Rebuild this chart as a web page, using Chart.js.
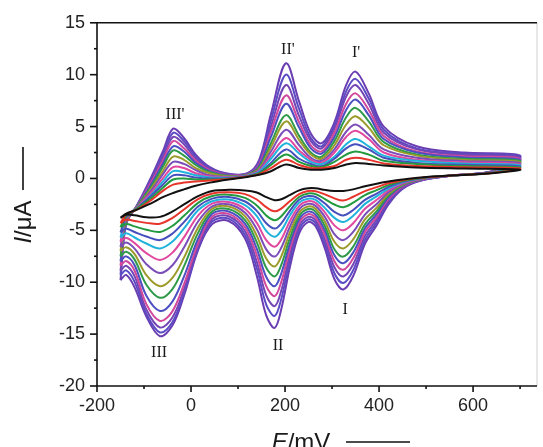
<!DOCTYPE html>
<html>
<head>
<meta charset="utf-8">
<script src="https://cdn.jsdelivr.net/npm/chart.js@4.4.1/dist/chart.umd.min.js"></script>
<style>
  html, body { margin: 0; padding: 0; background: #fff; }
  canvas { display: block; }
</style>
</head>
<body>
<canvas id="cv" width="543" height="447"></canvas>
<script>
/* ===== DATA ===== */
// potential grid (mV) of the anodic (forward) and cathodic (reverse) sweeps
const eForward = [-150, -138, -115, -85, -60, -38, -15, 10, 40, 80, 120, 145, 170, 202, 230, 255, 278, 305, 330, 350, 378, 410, 480, 580, 700];
const eReverse = [700, 640, 560, 490, 450, 420, 395, 370, 345, 324, 305, 285, 265, 249, 230, 210, 192, 178, 160, 140, 115, 80, 45, 15, -15, -40, -66, -95, -120, -138, -150];

// current (µA), innermost scan first
const fwd00 = [-3.8, -3.4, -3.0, -2.4, -1.8, -1.4, -1.05, -0.7, -0.4, -0.1, 0.15, 0.35, 0.7, 1.35, 1.0, 0.85, 0.85, 1.0, 1.35, 1.5, 1.4, 1.25, 1.05, 0.95, 0.85];
const rev00 = [0.85, 0.5, 0.3, 0.1, -0.1, -0.3, -0.5, -0.75, -1.05, -1.2, -1.2, -1.1, -0.95, -0.95, -1.15, -1.6, -2.0, -2.1, -1.8, -1.35, -1.15, -1.1, -1.2, -1.7, -2.5, -3.2, -3.7, -3.75, -3.55, -3.5, -3.8];
const fwd01 = [-4.3, -3.5, -3.0, -2.1, -1.2, -0.6, -0.4, -0.3, -0.2, -0.06, 0.18, 0.42, 1.0, 1.8, 1.3, 1.0, 1.0, 1.2, 1.8, 2.0, 1.8, 1.45, 1.2, 1.07, 0.95];
const rev01 = [0.95, 0.52, 0.3, 0.08, -0.17, -0.47, -0.84, -1.22, -1.76, -2.13, -1.92, -1.54, -1.23, -1.2, -1.5, -2.2, -2.9, -3.17, -2.77, -2.03, -1.51, -1.33, -1.45, -1.99, -2.99, -3.82, -4.36, -4.28, -4.09, -3.95, -4.3];
const fwd02 = [-4.7, -3.6, -2.9, -1.9, -0.9, -0.1, 0.0, -0.1, -0.1, -0.02, 0.2, 0.5, 1.3, 2.3, 1.6, 1.2, 1.1, 1.6, 2.3, 2.6, 2.3, 1.7, 1.4, 1.19, 1.06];
const rev02 = [1.06, 0.53, 0.3, 0.05, -0.24, -0.64, -1.12, -1.6, -2.34, -2.77, -2.51, -1.98, -1.51, -1.45, -1.79, -2.69, -3.64, -4.03, -3.57, -2.6, -1.87, -1.56, -1.69, -2.35, -3.6, -4.58, -5.15, -4.94, -4.62, -4.39, -4.7];
const fwd03 = [-5.2, -3.7, -2.9, -1.7, -0.6, 0.3, 0.3, 0.1, 0.0, 0.03, 0.23, 0.56, 1.5, 2.8, 1.9, 1.4, 1.2, 1.9, 2.9, 3.3, 2.8, 2.0, 1.5, 1.31, 1.16];
const rev03 = [1.16, 0.55, 0.3, 0.03, -0.31, -0.81, -1.45, -2.07, -3.04, -3.56, -3.22, -2.42, -1.79, -1.7, -2.06, -3.14, -4.33, -4.83, -4.31, -3.12, -2.22, -1.79, -1.94, -2.71, -4.21, -5.33, -5.94, -5.6, -5.16, -4.84, -5.2];
const fwd04 = [-5.7, -3.7, -2.9, -1.6, -0.3, 0.7, 0.6, 0.3, 0.1, 0.07, 0.26, 0.66, 1.9, 3.4, 2.4, 1.6, 1.4, 2.1, 3.3, 3.8, 3.1, 2.2, 1.7, 1.43, 1.27];
const rev04 = [1.27, 0.56, 0.3, 0.01, -0.38, -0.98, -1.72, -2.45, -3.6, -4.2, -3.8, -2.86, -2.07, -1.95, -2.33, -3.6, -5.02, -5.62, -5.05, -3.64, -2.58, -2.02, -2.19, -3.07, -4.82, -6.1, -6.74, -6.27, -5.69, -5.29, -5.7];
const fwd05 = [-6.1, -3.8, -2.8, -1.4, 0.0, 1.1, 1.0, 0.5, 0.2, 0.11, 0.28, 0.73, 2.2, 3.9, 2.7, 1.8, 1.5, 2.5, 4.0, 4.6, 3.8, 2.5, 1.8, 1.55, 1.37];
const rev05 = [1.37, 0.58, 0.3, -0.02, -0.45, -1.15, -2.06, -2.92, -4.31, -5.0, -4.52, -3.29, -2.36, -2.2, -2.66, -4.15, -5.86, -6.58, -5.95, -4.28, -2.94, -2.26, -2.43, -3.58, -5.68, -7.17, -7.85, -7.2, -6.23, -5.73, -6.1];
const fwd06 = [-6.6, -3.9, -2.8, -1.2, 0.4, 1.6, 1.4, 0.8, 0.3, 0.15, 0.31, 0.85, 2.6, 4.7, 3.2, 2.0, 1.7, 2.8, 4.5, 5.2, 4.2, 2.8, 2.0, 1.67, 1.47];
const rev06 = [1.47, 0.59, 0.3, -0.04, -0.52, -1.32, -2.46, -3.48, -5.15, -5.94, -5.37, -3.73, -2.64, -2.45, -2.98, -4.69, -6.67, -7.53, -6.83, -4.9, -3.3, -2.49, -2.68, -4.15, -6.65, -8.39, -9.12, -8.26, -6.76, -6.18, -6.6];
const fwd07 = [-7.0, -4.0, -2.8, -1.0, 0.7, 2.1, 1.8, 1.0, 0.5, 0.2, 0.34, 0.97, 3.0, 5.5, 3.7, 2.3, 1.9, 3.2, 5.2, 6.0, 4.9, 3.2, 2.2, 1.78, 1.58];
const rev07 = [1.58, 0.61, 0.3, -0.06, -0.58, -1.48, -2.81, -3.95, -5.87, -6.74, -6.1, -4.17, -2.91, -2.7, -3.3, -5.23, -7.5, -8.48, -7.72, -5.53, -3.65, -2.71, -2.92, -4.73, -7.63, -9.61, -10.39, -9.32, -7.29, -6.62, -7.0];
const fwd08 = [-7.5, -4.1, -2.7, -0.8, 1.1, 2.7, 2.2, 1.3, 0.6, 0.24, 0.37, 1.06, 3.4, 6.1, 4.1, 2.5, 2.1, 3.6, 5.9, 6.8, 5.5, 3.5, 2.3, 1.9, 1.68];
const rev08 = [1.68, 0.62, 0.3, -0.08, -0.65, -1.65, -3.14, -4.42, -6.57, -7.53, -6.82, -4.61, -3.2, -2.95, -3.63, -5.78, -8.33, -9.44, -8.61, -6.16, -4.01, -2.95, -3.17, -5.24, -8.48, -10.68, -11.5, -10.24, -7.82, -7.07, -7.5];
const fwd09 = [-8.0, -4.1, -2.7, -0.6, 1.4, 3.1, 2.6, 1.5, 0.7, 0.28, 0.39, 1.23, 4.0, 7.2, 4.9, 2.9, 2.4, 4.0, 6.6, 7.6, 6.1, 3.8, 2.5, 2.02, 1.78];
const rev09 = [1.78, 0.64, 0.3, -0.11, -0.72, -1.82, -3.42, -4.8, -7.14, -8.17, -7.4, -5.04, -3.48, -3.2, -3.95, -6.33, -9.16, -10.39, -9.5, -6.78, -4.37, -3.18, -3.41, -5.81, -9.46, -11.9, -12.77, -11.3, -8.36, -7.51, -8.0];
const fwd10 = [-8.4, -4.2, -2.7, -0.4, 1.7, 3.6, 2.9, 1.7, 0.8, 0.32, 0.42, 1.35, 4.5, 8.0, 5.4, 3.2, 2.6, 4.4, 7.2, 8.2, 6.6, 4.1, 2.6, 2.14, 1.89];
const rev10 = [1.89, 0.65, 0.3, -0.13, -0.79, -1.99, -3.68, -5.17, -7.7, -8.8, -7.97, -5.48, -3.76, -3.45, -4.27, -6.86, -9.97, -11.34, -10.37, -7.4, -4.73, -3.41, -3.66, -6.25, -10.2, -12.83, -13.73, -12.11, -8.89, -7.96, -8.4];
const fwd11 = [-8.9, -4.3, -2.7, -0.2, 2.0, 4.0, 3.3, 1.9, 0.9, 0.37, 0.45, 1.49, 5.0, 9.0, 6.0, 3.6, 2.9, 4.8, 7.9, 9.0, 7.2, 4.4, 2.8, 2.26, 1.99];
const rev11 = [1.99, 0.67, 0.3, -0.15, -0.86, -2.16, -3.96, -5.55, -8.27, -9.44, -8.55, -5.92, -4.04, -3.7, -4.6, -7.42, -10.81, -12.3, -11.27, -8.04, -5.08, -3.64, -3.91, -6.54, -10.68, -13.43, -14.36, -12.63, -9.43, -8.41, -8.9];
const fwd12 = [-9.3, -4.3, -2.6, -0.1, 2.3, 4.4, 3.6, 2.1, 1.0, 0.41, 0.47, 1.65, 5.6, 10.0, 6.7, 3.9, 3.1, 5.1, 8.4, 9.6, 7.7, 4.7, 2.9, 2.38, 2.1];
const rev12 = [2.1, 0.68, 0.3, -0.18, -0.93, -2.33, -4.23, -5.93, -8.84, -10.08, -9.13, -6.36, -4.32, -3.95, -4.92, -7.96, -11.62, -13.25, -12.15, -8.66, -5.44, -3.87, -4.15, -6.75, -11.05, -13.89, -14.84, -13.03, -9.96, -8.85, -9.3];
const fwd13 = [-9.8, -4.4, -2.6, 0.1, 2.6, 4.8, 3.9, 2.3, 1.1, 0.45, 0.5, 1.8, 6.2, 11.1, 7.4, 4.3, 3.4, 5.4, 9.0, 10.3, 8.2, 5.0, 3.1, 2.5, 2.2];
const rev13 = [2.2, 0.7, 0.3, -0.2, -1.0, -2.5, -4.5, -6.3, -9.4, -10.7, -9.7, -6.8, -4.6, -4.2, -5.3, -8.6, -12.6, -14.4, -13.2, -9.4, -5.8, -4.1, -4.4, -6.9, -11.3, -14.2, -15.2, -13.3, -10.5, -9.3, -9.8];

const forwardScans = [fwd00, fwd01, fwd02, fwd03, fwd04, fwd05, fwd06, fwd07, fwd08, fwd09, fwd10, fwd11, fwd12, fwd13];
const reverseScans = [rev00, rev01, rev02, rev03, rev04, rev05, rev06, rev07, rev08, rev09, rev10, rev11, rev12, rev13];

const scanColors = ["#111111", "#e8352c", "#239a3f", "#4550bd", "#1fb2dc", "#e0479f",
  "#7a4db9", "#9c9a2a", "#2f9a4a", "#4b4fc2", "#d2479b", "#7446b5", "#5b4bc4", "#6b3db2"];

const xTicks = [-200, 0, 200, 400, 600];
const xMinor = [-100, 100, 300, 500, 700];
const yTicks = [-20, -15, -10, -5, 0, 5, 10, 15];
const yMinor = [-17.5, -12.5, -7.5, -2.5, 2.5, 7.5, 12.5];

const peakText = ["III'", "II'", "I'", "III", "II", "I"];
const peakE = [-34, 206, 351, -68, 185, 328];
const peakI = [6.1, 12.4, 12.1, -16.8, -16.1, -12.7];

/* ===== DATASETS ===== */
const datasets = forwardScans.map((fwd, k) => {
  const pts = fwd.map((v, i) => ({ x: eForward[i], y: v }));
  reverseScans[k].forEach((v, i) => {
    if (i > 0) pts.push({ x: eReverse[i], y: v });
  });
  return {
    data: pts,
    borderColor: scanColors[k],
    borderWidth: 2,
    pointRadius: 0,
    showLine: true,
    tension: 0.35,
    fill: false,
  };
});

/* ===== FRAME, TICKS, LABELS ===== */
const frame = {
  id: "frame",
  afterDraw(chart) {
    const { ctx, chartArea: a, scales: { x, y } } = chart;
    const line = (x1, y1, x2, y2) => {
      ctx.beginPath();
      ctx.moveTo(x1, y1);
      ctx.lineTo(x2, y2);
      ctx.stroke();
    };
    ctx.save();

    ctx.strokeStyle = "#cfcfcf";
    ctx.lineWidth = 1;
    line(a.right, a.top, a.right, a.bottom);

    ctx.strokeStyle = "#111";
    ctx.lineWidth = 1.6;
    line(a.left, a.top, a.right, a.top);
    line(a.left, a.top, a.left, a.bottom);
    line(a.left, a.bottom, a.right, a.bottom);

    xTicks.forEach(v => {
      const px = x.getPixelForValue(v);
      line(px, a.bottom, px, a.bottom + 6);
    });
    xMinor.forEach(v => {
      const px = x.getPixelForValue(v);
      line(px, a.bottom, px, a.bottom + 3);
    });
    yTicks.forEach(v => {
      const py = y.getPixelForValue(v);
      line(a.left - 7, py, a.left, py);
    });
    yMinor.forEach(v => {
      const py = y.getPixelForValue(v);
      line(a.left - 3, py, a.left, py);
    });

    // peak labels
    ctx.fillStyle = "#1a1a1a";
    ctx.font = '16px "Liberation Serif", "Times New Roman", serif';
    ctx.textAlign = "center";
    ctx.textBaseline = "middle";
    peakText.forEach((t, i) => {
      ctx.fillText(t, x.getPixelForValue(peakE[i]), y.getPixelForValue(peakI[i]));
    });

    // axis titles
    const ital = 'italic 24px "Liberation Sans", Arial, sans-serif';
    const reg = '24px "Liberation Sans", Arial, sans-serif';
    ctx.textAlign = "left";
    ctx.textBaseline = "alphabetic";

    ctx.font = ital;
    const wE = ctx.measureText("E").width;
    ctx.font = reg;
    const wMv = ctx.measureText("/mV").width;
    let sx = 301 - (wE + wMv) / 2;
    ctx.font = ital;
    ctx.fillText("E", sx, 450);
    ctx.font = reg;
    ctx.fillText("/mV", sx + wE, 450);
    ctx.lineWidth = 1.6;
    line(346, 442, 410, 442);

    ctx.save();
    ctx.translate(31, 222);
    ctx.rotate(-Math.PI / 2);
    ctx.font = ital;
    const wI = ctx.measureText("I").width;
    ctx.font = reg;
    const wUa = ctx.measureText("/μA").width;
    sx = -(wI + wUa) / 2;
    ctx.font = ital;
    ctx.fillText("I", sx, 0);
    ctx.font = reg;
    ctx.fillText("/μA", sx + wI, 0);
    ctx.restore();
    line(23, 147, 23, 190);

    ctx.restore();
  },
};

new Chart(document.getElementById("cv"), {
  type: "scatter",
  data: { datasets },
  plugins: [frame],
  options: {
    responsive: false,
    animation: false,
    devicePixelRatio: 1,
    layout: { padding: { top: 19, right: 6, left: 0, bottom: 0 } },
    plugins: { legend: { display: false }, tooltip: { enabled: false } },
    scales: {
      x: {
        type: "linear",
        min: -200,
        max: 736,
        afterBuildTicks: s => { s.ticks = xTicks.map(value => ({ value })); },
        afterFit: s => { s.height = 61; },
        grid: { display: false, drawTicks: false },
        border: { display: false },
        ticks: { font: { family: '"Liberation Sans", Arial', size: 18 }, color: "#222", padding: 9, maxRotation: 0 },
      },
      y: {
        type: "linear",
        min: -20,
        max: 15,
        afterBuildTicks: s => { s.ticks = yTicks.map(value => ({ value })); },
        afterFit: s => { s.width = 97; },
        grid: { display: false, drawTicks: false },
        border: { display: false },
        ticks: { font: { family: '"Liberation Sans", Arial', size: 18 }, color: "#222", padding: 12 },
      },
    },
  },
});
</script>
</body>
</html>
